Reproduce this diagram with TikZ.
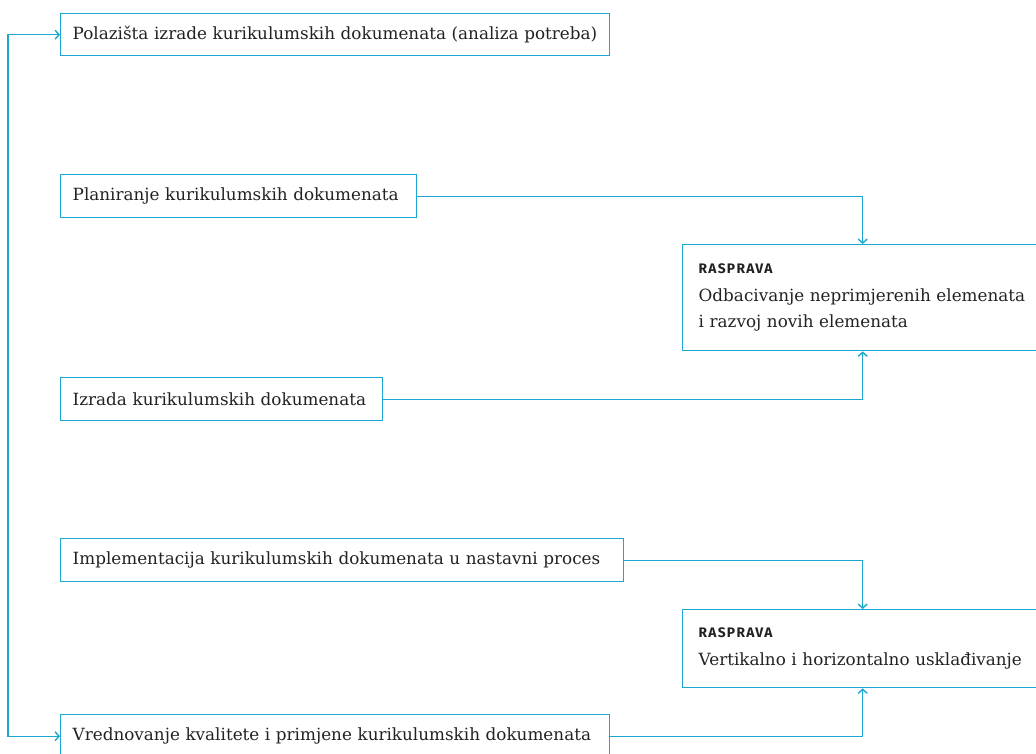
\documentclass[tikz,border=0pt]{standalone}
\usepackage{fontspec}
\setmainfont{DejaVu Serif}
\newfontfamily\raspfont[LetterSpace=9]{Fira Sans}
\usetikzlibrary{arrows.meta}
\definecolor{linecyan}{RGB}{28,167,209}
\definecolor{inkgray}{RGB}{34,34,34}
\tikzset{
	stepbox/.style={draw=linecyan, line width=1.4pt, anchor=north west, inner xsep=12pt, inner ysep=0pt, align=left, text=inkgray, font=\fontsize{16.8}{26}\selectfont},
	raspbox/.style={stepbox, inner xsep=16pt},
	link/.style={draw=linecyan, line width=1.4pt, -{Straight Barb[length=4pt,width=9pt]}},
	looplink/.style={link, {Straight Barb[length=4pt,width=9pt]}-{Straight Barb[length=4pt,width=9pt]}}
}
\newcommand{\rasphead}{{\raspfont\bfseries\fontsize{13.8}{15}\selectfont RASPRAVA}}

\begin{document}
\begin{tikzpicture}[x=1pt,y=-1pt]
				\path[use as bounding box, clip] (0,0) rectangle (1036,753);
				
				\node[stepbox, text width=525pt, minimum height=42pt] (pol) at (60,13) {Polazišta izrade kurikulumskih dokumenata (analiza potreba)};
				\node[stepbox, text width=332pt, minimum height=43pt] (plan) at (60,174) {Planiranje kurikulumskih dokumenata};
				\node[stepbox, text width=298pt, minimum height=43pt] (izrada) at (60,377) {Izrada kurikulumskih dokumenata};
				\node[stepbox, text width=539pt, minimum height=43pt] (impl) at (60,538) {Implementacija kurikulumskih dokumenata u nastavni proces};
				\node[stepbox, text width=525pt, minimum height=43pt] (vred) at (60,714) {Vrednovanje kvalitete i primjene kurikulumskih dokumenata};
				
				\node[raspbox, text width=328pt, minimum height=106pt] (rasp1) at (682,244) {\rasphead\\[2pt] Odbacivanje neprimjerenih elemenata\\ i razvoj novih elemenata};
				\node[raspbox, text width=328pt, minimum height=78pt] (rasp2) at (682,609) {\rasphead\\[2pt] Vertikalno i horizontalno usklađivanje};
				
				\draw[link] (plan.east) -| (rasp1.north);
				\draw[link] (izrada.east) -| (rasp1.south);
				\draw[link] (impl.east) -| (rasp2.north);
				\draw[link] (vred.east) -| (rasp2.south);
				\draw[looplink] (vred.west) -- ++(-52,0) |- (pol.west);
\end{tikzpicture}
\end{document}
